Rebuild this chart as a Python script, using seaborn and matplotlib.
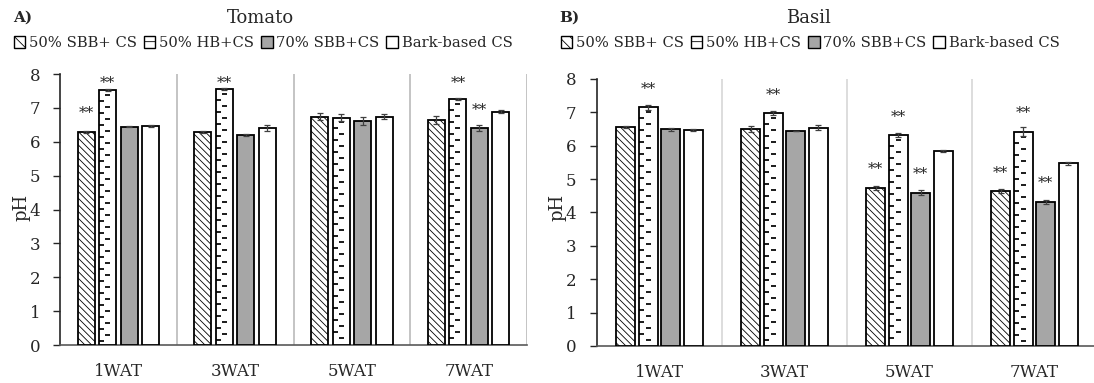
import numpy as np
import pandas as pd
import matplotlib
matplotlib.use("Agg")
import matplotlib.pyplot as plt
import seaborn as sns
from matplotlib.patches import Rectangle

# ---- data -------------------------------------------------------------
weeks = ["1WAT", "3WAT", "5WAT", "7WAT"]
treatments = ["50% SBB+ CS", "50% HB+CS", "70% SBB+CS", "Bark-based CS"]

tomato_sbb50 = [6.30, 6.29, 6.74, 6.64]
tomato_hb50 = [7.52, 7.56, 6.71, 7.26]
tomato_sbb70 = [6.45, 6.21, 6.61, 6.40]
tomato_bark = [6.46, 6.40, 6.74, 6.89]
tomato_sbb50_se = [0.03, 0.04, 0.10, 0.13]
tomato_hb50_se = [0.03, 0.03, 0.10, 0.03]
tomato_sbb70_se = [0.02, 0.03, 0.12, 0.08]
tomato_bark_se = [0.03, 0.08, 0.08, 0.05]

basil_sbb50 = [6.57, 6.50, 4.74, 4.64]
basil_hb50 = [7.15, 6.97, 6.32, 6.42]
basil_sbb70 = [6.49, 6.44, 4.59, 4.32]
basil_bark = [6.47, 6.54, 5.85, 5.47]
basil_sbb50_se = [0.03, 0.08, 0.06, 0.06]
basil_hb50_se = [0.08, 0.06, 0.06, 0.13]
basil_sbb70_se = [0.04, 0.01, 0.08, 0.06]
basil_bark_se = [0.04, 0.08, 0.03, 0.04]

# significance marks: (week, treatment, label)
tomato_marks = [("1WAT", "50% SBB+ CS", "**"), ("1WAT", "50% HB+CS", "**"),
                ("3WAT", "50% HB+CS", "**"), ("7WAT", "50% HB+CS", "**"),
                ("7WAT", "70% SBB+CS", "**")]
basil_marks = [("1WAT", "50% HB+CS", "**"), ("3WAT", "50% HB+CS", "**"),
               ("5WAT", "50% SBB+ CS", "**"), ("5WAT", "50% HB+CS", "**"),
               ("5WAT", "70% SBB+CS", "**"), ("7WAT", "50% SBB+ CS", "**"),
               ("7WAT", "50% HB+CS", "**"), ("7WAT", "70% SBB+CS", "**")]


def long_frame(values, errors):
    rows = []
    for t, vals, errs in zip(treatments, values, errors):
        for w, v, e in zip(weeks, vals, errs):
            rows.append({"week": w, "treatment": t, "pH": v, "se": e})
    return pd.DataFrame(rows)


tomato = long_frame([tomato_sbb50, tomato_hb50, tomato_sbb70, tomato_bark],
                    [tomato_sbb50_se, tomato_hb50_se, tomato_sbb70_se, tomato_bark_se])
basil = long_frame([basil_sbb50, basil_hb50, basil_sbb70, basil_bark],
                   [basil_sbb50_se, basil_hb50_se, basil_sbb70_se, basil_bark_se])

# ---- style ------------------------------------------------------------
sns.set_style("white")
plt.rcParams["font.family"] = ["DejaVu Serif"]
plt.rcParams["hatch.linewidth"] = 0.6

GRAY = "#a6a6a6"
palette = {treatments[0]: "white", treatments[1]: "white",
           treatments[2]: GRAY, treatments[3]: "white"}
hatches = {treatments[0]: "\\\\\\\\\\", treatments[1]: "",
           treatments[2]: "", treatments[3]: ""}

W, H = 1094, 383
fig = plt.figure(figsize=(W / 100, H / 100), dpi=100)
axL = fig.add_axes([60 / W, (H - 345) / H, 467 / W, (345 - 74) / H])
axR = fig.add_axes([597 / W, (H - 346) / H, 500 / W, (346 - 79) / H])


def add_dashes(ax, patch):
    """Short staggered horizontal dashes inside a bar (dashed-fill pattern)."""
    x0, w, h = patch.get_x(), patch.get_width(), patch.get_height()
    inv = ax.transData.inverted()
    p0 = inv.transform((0, 0))
    px_x = inv.transform((1, 0))[0] - p0[0]
    px_y = inv.transform((0, 1))[1] - p0[1]
    dash = 5.0 * px_x
    row = 6.0 * px_y
    cx = x0 + w / 2
    y = h - row * 0.8
    i = 0
    while y > row * 0.4:
        if i % 2 == 0:
            a, b = cx - dash / 2, cx + dash / 2
        else:
            a, b = x0, x0 + dash
        ax.plot([a, b], [y, y], color="black", lw=1.25, solid_capstyle="butt",
                zorder=patch.get_zorder() + 0.1)
        y -= row
        i += 1


def draw_panel(ax, df, marks, width, gap, sep_color, tick_pad):
    sns.barplot(data=df, x="week", y="pH", hue="treatment", order=weeks,
                hue_order=treatments, palette=palette, saturation=1,
                width=width, gap=gap, edgecolor="black", linewidth=1.3,
                errorbar=None, legend=False, ax=ax, zorder=3)
    ax.set_xlim(-0.5, 3.5)
    ax.set_ylim(0, 8)
    ax.vlines([0.5, 1.5, 2.5, 3.5], 0, 8, color=sep_color, lw=1.3, zorder=1)

    centers = {}
    for t, cont in zip(treatments, ax.containers):
        sub = df[df["treatment"] == t].set_index("week").loc[weeks]
        xs = [p.get_x() + p.get_width() / 2 for p in cont.patches]
        for w, p, x in zip(weeks, cont.patches, xs):
            p.set_hatch(hatches[t])
            centers[(w, t)] = x
            if t == treatments[1]:
                add_dashes(ax, p)
        ax.errorbar(xs, sub["pH"].values, yerr=sub["se"].values, fmt="none",
                    ecolor="#404040", elinewidth=0.9, capsize=2.5,
                    capthick=0.9, zorder=4)

    for w, t, lab in marks:
        row = df[(df["week"] == w) & (df["treatment"] == t)].iloc[0]
        y = min(row["pH"] + 0.55, 7.72)
        ax.text(centers[(w, t)], y, lab, ha="center", va="center",
                fontsize=11, color="#222222", zorder=5)

    sns.despine(ax=ax, top=True, right=True)
    ax.spines["left"].set_color("#262626")
    ax.spines["left"].set_linewidth(1.2)
    ax.spines["bottom"].set_color("#595959")
    ax.spines["bottom"].set_linewidth(1.2)
    ax.set_yticks(range(0, 9))
    ax.tick_params(axis="y", direction="out", length=5, width=1,
                   color="#262626", labelsize=12, pad=tick_pad, left=True)
    ax.tick_params(axis="x", length=0, labelsize=12, pad=13)
    ax.set_xlabel("")
    ax.set_ylabel("")


draw_panel(axL, tomato, tomato_marks, 0.735, 0.21, "#bfbfbf", 9)
draw_panel(axR, basil, basil_marks, 0.72, 0.16, "#dadada", 10)

# axis labels
fig.text(21 / W, (H - 207) / H, "pH", rotation=90, ha="center", va="center",
         fontsize=13)
fig.text(557 / W, (H - 207) / H, "pH", rotation=90, ha="center", va="center",
         fontsize=13)

# titles and panel letters
fig.text(260 / W, (H - 18) / H, "Tomato", ha="center", va="center", fontsize=13)
fig.text(808 / W, (H - 18) / H, "Basil", ha="center", va="center", fontsize=13)
fig.text(13 / W, (H - 18) / H, "A)", ha="left", va="center", fontsize=11,
         fontweight="bold")
fig.text(559 / W, (H - 18) / H, "B)", ha="left", va="center", fontsize=11,
         fontweight="bold")


# legends
def legend_handles():
    return [Rectangle((0, 0), 1, 1, facecolor=palette[t], edgecolor="black",
                      linewidth=1.0,
                      hatch=("\\\\\\" if i == 0 else ("-" if i == 1 else "")))
            for i, t in enumerate(treatments)]


for cx in (263, 810):
    fig.legend(handles=legend_handles(), labels=treatments, loc="center",
               bbox_to_anchor=(cx / W, (H - 43) / H), ncol=4,
               frameon=False, fontsize=10.6, handlelength=0.8,
               handleheight=0.8, handletextpad=0.25, columnspacing=0.45,
               borderaxespad=0, borderpad=0)

fig.savefig("out.png", dpi=100)
